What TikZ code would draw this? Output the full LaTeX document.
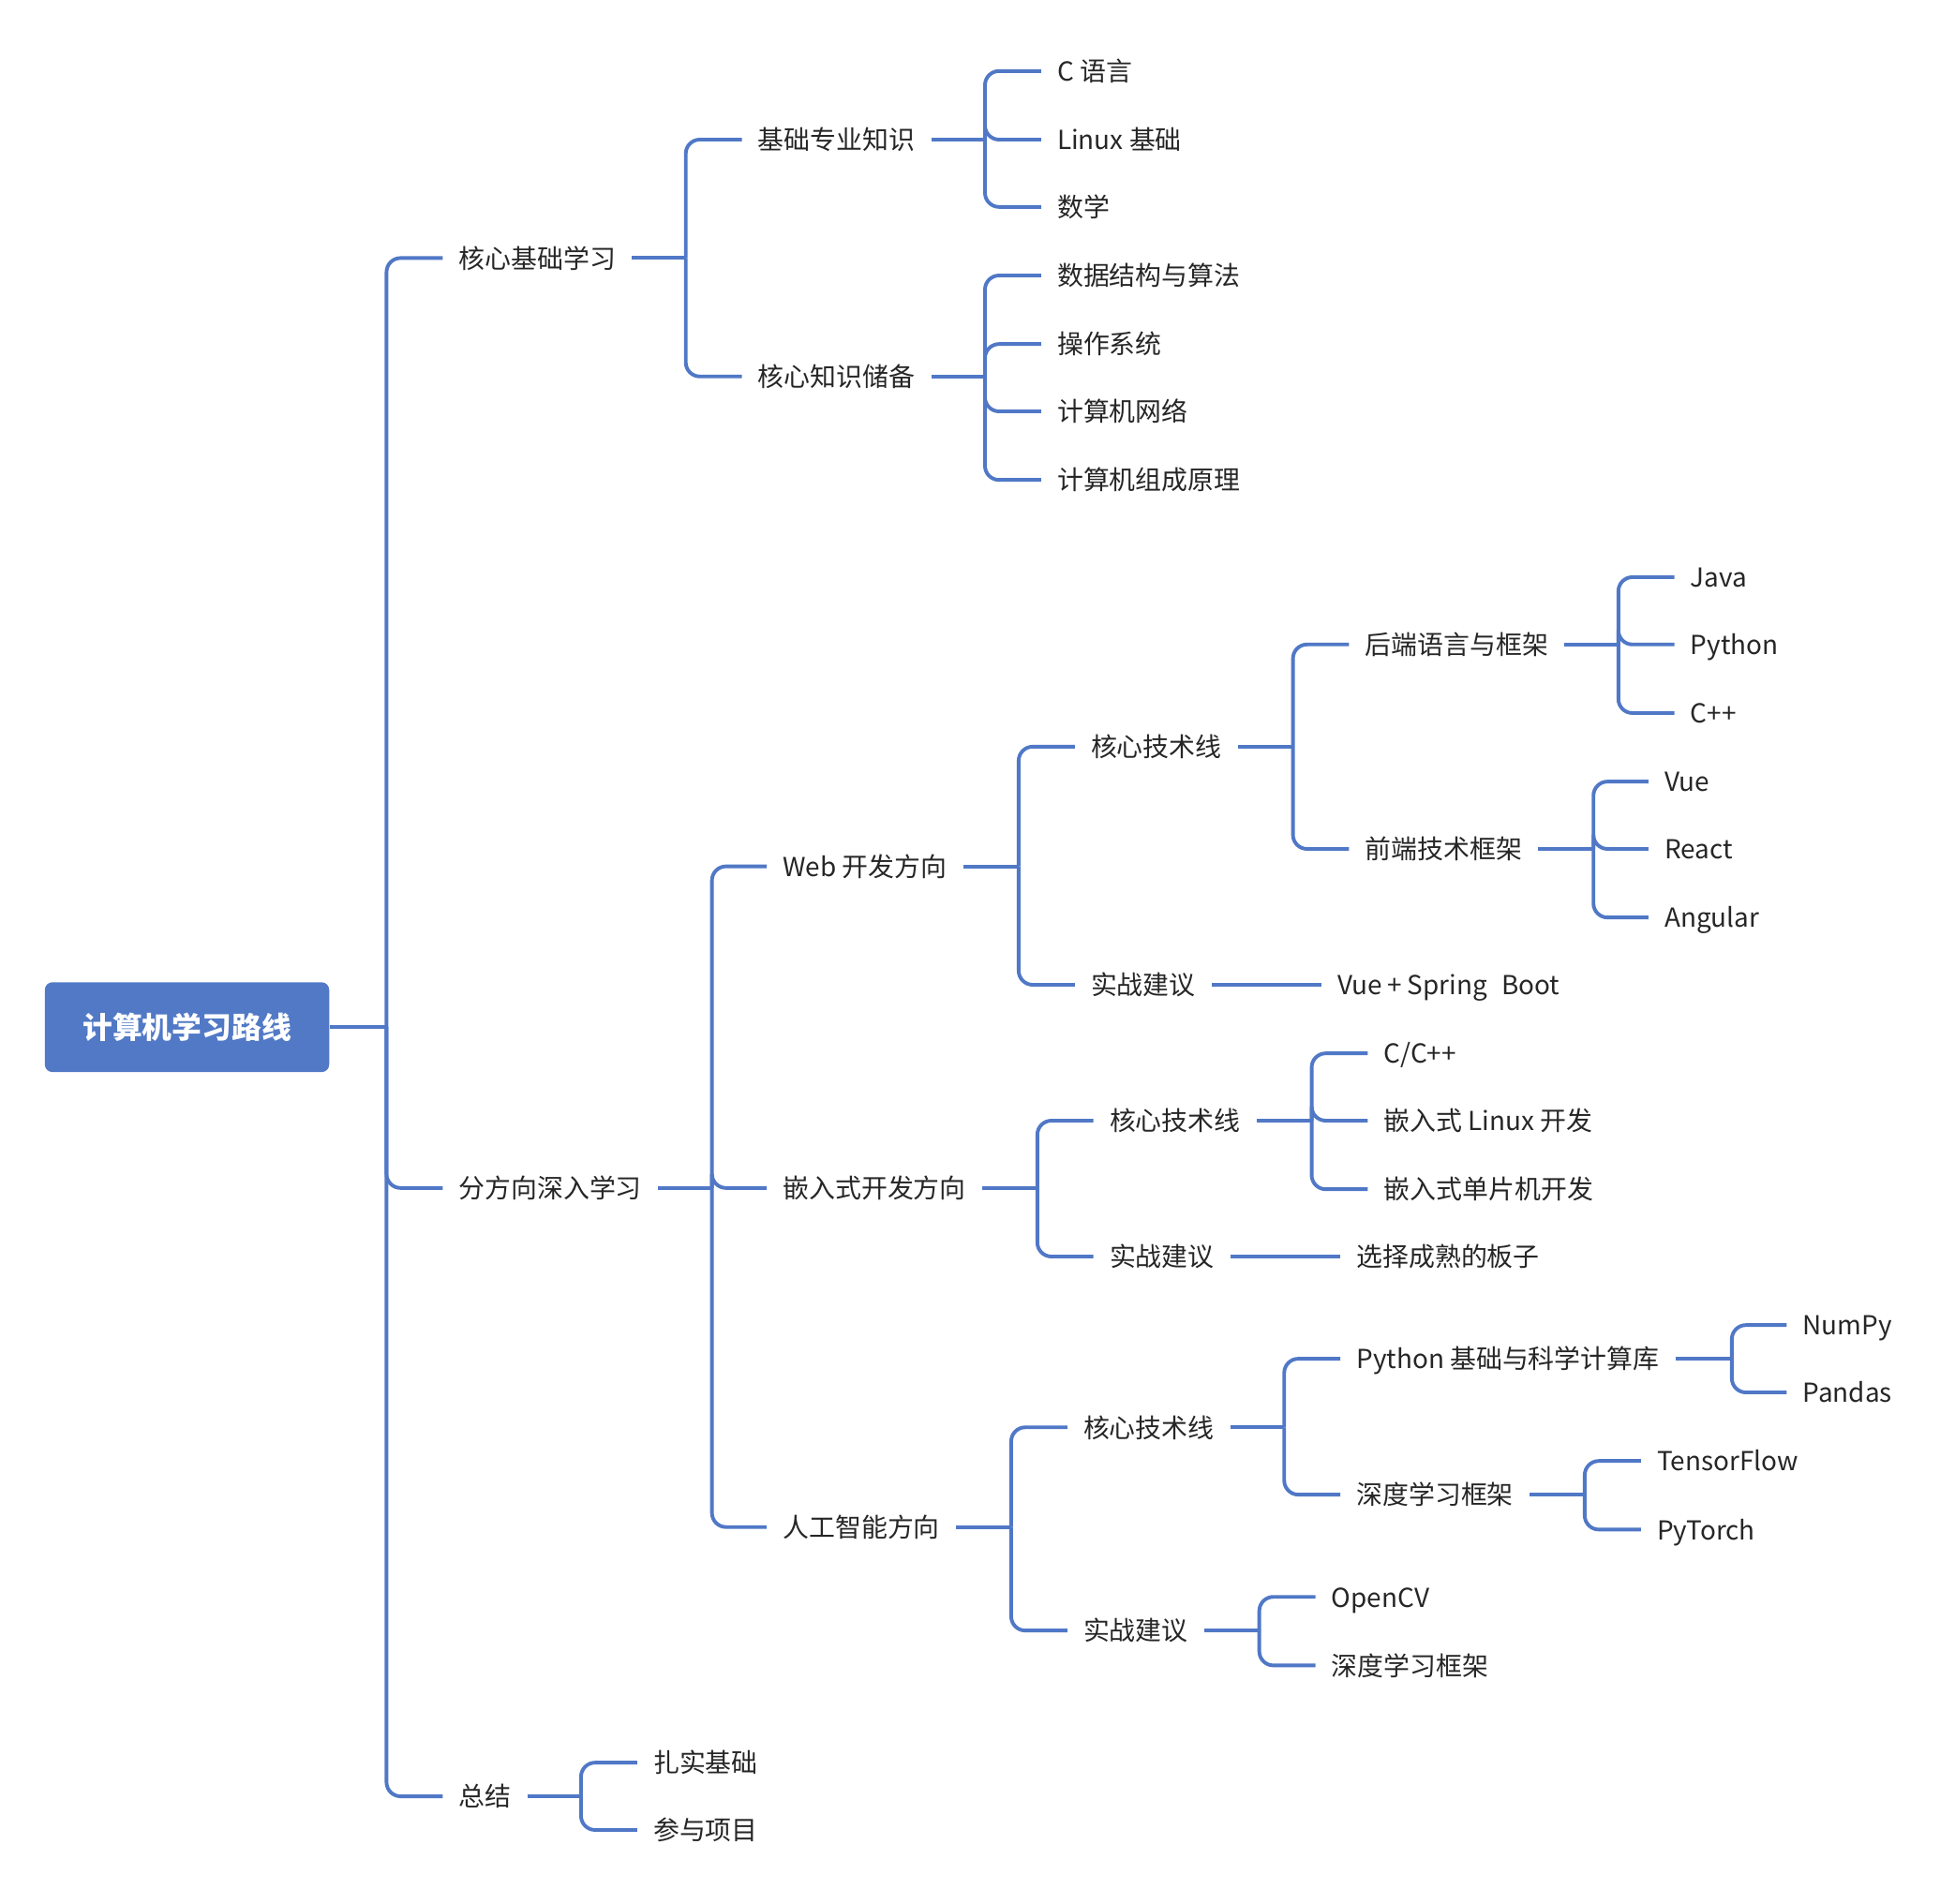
\documentclass[tikz,border=0pt]{standalone}
\usepackage{fontspec}
\setmainfont{Noto Sans CJK SC}
\definecolor{lineblue}{RGB}{80,120,198}
\definecolor{rootblue}{RGB}{81,121,198}
\definecolor{txt}{RGB}{38,38,38}
\tikzset{
  lbl/.style={inner sep=0pt, outer xsep=8.65pt, outer ysep=0pt, anchor=west,
    text height=1.1em, text depth=0.02em, font=\fontsize{13.95}{16}\selectfont, text=txt},
  conn/.style={draw=lineblue, line width=1.95pt, rounded corners=7.5pt},
  rootbox/.style={fill=rootblue, rounded corners=4pt, minimum width=151.7pt, minimum height=47.9pt,
    text=white, font=\fontsize{15.9}{18}\selectfont\bfseries, inner sep=0pt}
}
\begin{document}
\begin{tikzpicture}[x=0.6652pt, y=-0.6652pt]
\useasboundingbox (0,0) rectangle (1568,1527.4);
% root
\node[rootbox] (root) at (150,824) {计算机学习路线};
% junction coordinates
\coordinate (j0) at (310,824);
\coordinate (j1) at (550,207);
\coordinate (j2) at (571,953);
\coordinate (j3) at (466,1441);
\coordinate (ja1) at (790,112);
\coordinate (ja2) at (790,302);
\coordinate (jb1) at (817,695);
\coordinate (jb2) at (832,953);
\coordinate (jb3) at (811,1225);
\coordinate (jc1) at (1037,599);
\coordinate (jd1) at (1298,517);
\coordinate (jd2) at (1278,681);
\coordinate (je1) at (1052,899);
\coordinate (jf1) at (1030,1145);
\coordinate (jf2) at (1010,1308);
\coordinate (jg1) at (1389,1090);
\coordinate (jg2) at (1271,1199);
% level 1
\node[lbl] (n1) at (355,207) {核心基础学习};
\node[lbl] (n2) at (355,953) {分方向深入学习};
\node[lbl] (n3) at (355,1441) {总结};
% under n1
\node[lbl] (a1) at (595,112) {基础专业知识};
\node[lbl] (a2) at (595,302) {核心知识储备};
\node[lbl] (a11) at (835,57) {C 语言};
\node[lbl] (a12) at (835,112) {Linux 基础};
\node[lbl] (a13) at (835,166) {数学};
\node[lbl] (a21) at (835,221) {数据结构与算法};
\node[lbl] (a22) at (835,276) {操作系统};
\node[lbl] (a23) at (835,330) {计算机网络};
\node[lbl] (a24) at (835,385) {计算机组成原理};
% under n2
\node[lbl] (b1) at (615,695) {Web 开发方向};
\node[lbl] (b2) at (615,953) {嵌入式开发方向};
\node[lbl] (b3) at (615,1225) {人工智能方向};
% web
\node[lbl] (c1) at (862,599) {核心技术线};
\node[lbl] (c2) at (862,790) {实战建议};
\node[lbl] (c21) at (1060,790) {Vue\hspace{0.2em}+\hspace{0.2em}Spring\hspace{0.55em}Boot};
\node[lbl] (d1) at (1082,517) {后端语言与框架};
\node[lbl] (d2) at (1082,681) {前端技术框架};
\node[lbl] (d11) at (1343,463) {Java};
\node[lbl] (d12) at (1343,517) {Python};
\node[lbl] (d13) at (1343,572) {C++};
\node[lbl] (d21) at (1322,627) {Vue};
\node[lbl] (d22) at (1322,681) {React};
\node[lbl] (d23) at (1322,736) {Angular};
% embedded
\node[lbl] (e1) at (877,899) {核心技术线};
\node[lbl] (e2) at (877,1008) {实战建议};
\node[lbl] (e21) at (1075,1008) {选择成熟的板子};
\node[lbl] (e11) at (1097,845) {C/C++};
\node[lbl] (e12) at (1097,899) {嵌入式 Linux 开发};
\node[lbl] (e13) at (1097,954) {嵌入式单片机开发};
% AI
\node[lbl] (f1) at (856,1145) {核心技术线};
\node[lbl] (f2) at (856,1308) {实战建议};
\node[lbl] (g1) at (1075,1090) {Python 基础与科学计算库};
\node[lbl] (g2) at (1075,1199) {深度学习框架};
\node[lbl] (g11) at (1433,1063) {NumPy};
\node[lbl] (g12) at (1433,1117) {Pandas};
\node[lbl] (g21) at (1316,1172) {TensorFlow};
\node[lbl] (g22) at (1316,1227) {PyTorch};
\node[lbl] (f21) at (1055,1281) {OpenCV};
\node[lbl] (f22) at (1055,1336) {深度学习框架};
% summary
\node[lbl] (h1) at (511,1414) {扎实基础};
\node[lbl] (h2) at (511,1468) {参与项目};

% connectors
\draw[conn] (root.east) -- (j0);
\foreach \c in {n1,n2,n3} \draw[conn] (j0) |- (\c.west);
\draw[conn] (n1.east) -- (j1);
\foreach \c in {a1,a2} \draw[conn] (j1) |- (\c.west);
\draw[conn] (a1.east) -- (ja1);
\foreach \c in {a11,a12,a13} \draw[conn] (ja1) |- (\c.west);
\draw[conn] (a2.east) -- (ja2);
\foreach \c in {a21,a22,a23,a24} \draw[conn] (ja2) |- (\c.west);
\draw[conn] (n2.east) -- (j2);
\foreach \c in {b1,b2,b3} \draw[conn] (j2) |- (\c.west);
\draw[conn] (b1.east) -- (jb1);
\foreach \c in {c1,c2} \draw[conn] (jb1) |- (\c.west);
\draw[conn] (c2.east) -- (c21.west);
\draw[conn] (c1.east) -- (jc1);
\foreach \c in {d1,d2} \draw[conn] (jc1) |- (\c.west);
\draw[conn] (d1.east) -- (jd1);
\foreach \c in {d11,d12,d13} \draw[conn] (jd1) |- (\c.west);
\draw[conn] (d2.east) -- (jd2);
\foreach \c in {d21,d22,d23} \draw[conn] (jd2) |- (\c.west);
\draw[conn] (b2.east) -- (jb2);
\foreach \c in {e1,e2} \draw[conn] (jb2) |- (\c.west);
\draw[conn] (e2.east) -- (e21.west);
\draw[conn] (e1.east) -- (je1);
\foreach \c in {e11,e12,e13} \draw[conn] (je1) |- (\c.west);
\draw[conn] (b3.east) -- (jb3);
\foreach \c in {f1,f2} \draw[conn] (jb3) |- (\c.west);
\draw[conn] (f1.east) -- (jf1);
\foreach \c in {g1,g2} \draw[conn] (jf1) |- (\c.west);
\draw[conn] (g1.east) -- (jg1);
\foreach \c in {g11,g12} \draw[conn] (jg1) |- (\c.west);
\draw[conn] (g2.east) -- (jg2);
\foreach \c in {g21,g22} \draw[conn] (jg2) |- (\c.west);
\draw[conn] (f2.east) -- (jf2);
\foreach \c in {f21,f22} \draw[conn] (jf2) |- (\c.west);
\draw[conn] (n3.east) -- (j3);
\foreach \c in {h1,h2} \draw[conn] (j3) |- (\c.west);
\end{tikzpicture}
\end{document}
